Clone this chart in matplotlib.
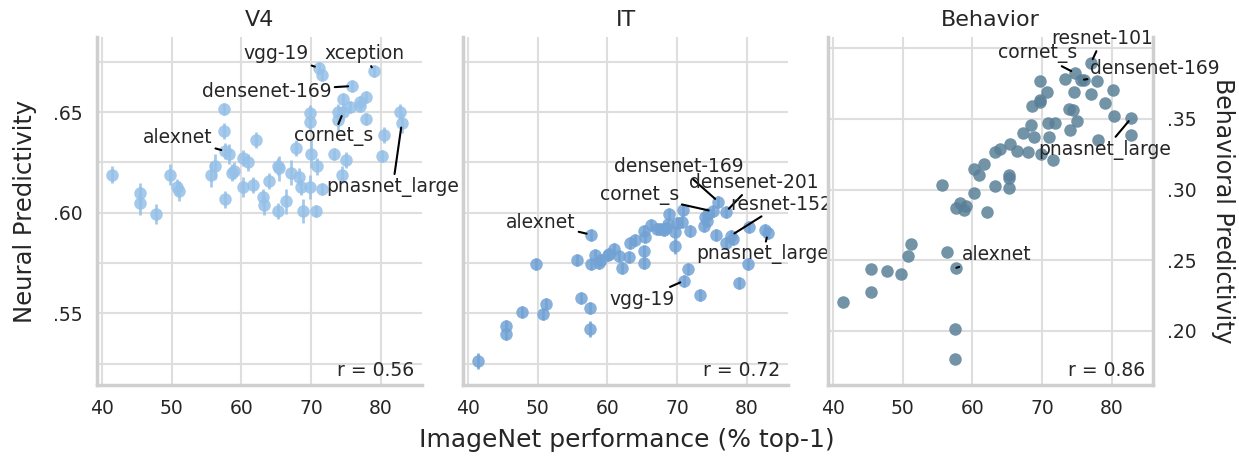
import matplotlib
matplotlib.use("Agg")
import matplotlib.pyplot as plt
from matplotlib.ticker import FixedLocator, FuncFormatter


# ImageNet top-1 and predictivity per model
v4_x = [41.4, 45.4, 45.4, 47.7, 49.7, 50.7, 51.1, 55.6, 56.2, 57.5,
        57.5, 57.7, 57.7, 58.2, 58.7, 59.0, 60.2, 60.2, 61.0, 61.7,
        62.1, 63.1, 63.2, 63.9, 65.2, 65.4, 65.3, 66.4, 67.1, 67.9,
        68.3, 68.6, 68.8, 69.8, 69.8, 70.0, 69.8, 70.9, 70.7, 71.1,
        71.5, 71.6, 73.3, 73.9, 73.9, 74.5, 74.6, 75.0, 74.6, 75.6,
        75.9, 77.0, 77.0, 77.8, 77.9, 79.0, 80.4, 80.2, 82.8, 83.0]
v4_y = [.619, .610, .605, .5995, .619, .613, .611, .619, .623, .6515,
        .6406, .6066, .6306, .629, .620, .621, .627, .613, .625, .614,
        .636, .608, .604, .616, .623, .622, .601, .6056, .620, .632,
        .618, .613, .601, .6495, .645, .629, .613, .623, .6008, .672,
        .6687, .612, .629, .650, .646, .619, .6566, .626, .650, .6525,
        .663, .655, .653, .6576, .6467, .6705, .6387, .628, .650, .6444]
v4_err = [.004, .005, .006, .005, .005, .004, .005, .006, .006, .003,
          .004, .004, .004, .005, .004, .004, .004, .005, .004, .004,
          .004, .004, .005, .004, .004, .006, .004, .006, .006, .004,
          .004, .004, .006, .004, .004, .007, .006, .004, .003, .003,
          .003, .003, .003, .004, .005, .004, .003, .004, .004, .003,
          .003, .003, .003, .003, .003, .003, .004, .003, .004, .005]

it_x = [41.5, 45.5, 45.5, 47.7, 49.7, 50.7, 51.2, 55.7, 56.2, 57.5,
        57.5, 57.6, 57.6, 58.2, 58.8, 59.1, 60.1, 60.3, 61.0, 61.7,
        62.1, 63.1, 63.2, 63.9, 65.2, 65.2, 65.3, 65.4, 66.3, 67.1,
        67.6, 68.1, 68.4, 68.7, 68.8, 69.7, 69.7, 70.0, 70.7, 70.9,
        71.0, 71.5, 71.8, 73.3, 73.8, 74.0, 74.3, 74.4, 75.1, 75.6,
        75.9, 77.0, 77.0, 77.7, 78.0, 78.9, 80.3, 80.1, 82.6, 83.0]
it_y = [.5263, .5437, .5396, .5508, .5743, .5495, .5548, .5767, .5576, .5525,
        .5422, .5891, .5743, .579, .575, .5763, .579, .5796, .5818, .5783,
        .5727, .578, .5848, .5863, .5808, .5748, .5909, .5879, .5937, .5917,
        .592, .5915, .5925, .5942, .5993, .5904, .5833, .5947, .5952, .6012,
        .5662, .5719, .591, .5591, .5932, .598, .596, .5992, .6007, .5889,
        .6055, .6005, .5848, .5886, .5868, .5652, .5929, .5743, .5916, .5897]
it_err = [.004, .003, .003, .003, .003, .003, .003, .003, .003, .003,
          .004, .003, .003, .003, .003, .003, .003, .003, .003, .003,
          .003, .003, .003, .003, .003, .003, .003, .003, .003, .003,
          .003, .003, .003, .003, .003, .003, .004, .003, .003, .003,
          .003, .003, .003, .003, .003, .003, .003, .003, .003, .003,
          .003, .003, .003, .003, .003, .003, .003, .003, .003, .003]

beh_x = [41.5, 45.5, 45.5, 47.7, 49.8, 50.8, 51.2, 55.7, 56.3, 57.5,
         57.5, 57.7, 57.6, 58.2, 58.8, 59.1, 60.3, 60.3, 61.0, 61.7,
         62.1, 63.2, 63.3, 63.9, 65.3, 65.3, 65.3, 65.4, 66.4, 67.2,
         68.0, 68.4, 68.8, 68.6, 69.7, 69.7, 69.7, 69.9, 70.7, 70.8,
         71.0, 71.5, 71.8, 73.3, 73.8, 74.4, 74.0, 74.5, 74.7, 75.0,
         75.6, 76.0, 77.0, 77.0, 77.8, 78.0, 79.0, 80.1, 80.3, 82.8, 82.7]
beh_y = [.2205, .2441, .2276, .2420, .2403, .2531, .2618, .3033, .2559, .2014,
         .1800, .2446, .287, .2903, .2854, .2887, .2972, .3144, .3101, .3184,
         .2844, .3024, .3264, .3288, .3104, .308, .3009, .3325, .3276, .3401,
         .3267, .346, .337, .3594, .3767, .3634, .3618, .325, .3693, .3474,
         .3375, .321, .3474, .378, .357, .3561, .342, .3693, .3825, .3483,
         .3778, .3778, .3896, .3677, .3767, .3349, .3613, .3708, .3524, .3507, .3387]

# labelled models: (name, point x, point y, text x, text y)
v4_labels = [("vgg-19", 71.1, .672, 65.0, .679),
             ("xception", 79.0, .6705, 77.6, .679),
             ("densenet-169", 75.9, .663, 63.7, .6604),
             ("alexnet", 57.7, .6306, 50.9, .6372),
             ("cornet_s", 74.6, .650, 73.2, .638),
             ("pnasnet_large", 83.0, .6444, 81.7, .6129)]
it_labels = [("densenet-169", 75.9, .6055, 70.3, .6228),
             ("densenet-201", 77.0, .6005, 81.0, .6149),
             ("cornet_s", 75.1, .6007, 64.6, .6088),
             ("resnet-152", 77.7, .5886, 84.9, .6043),
             ("alexnet", 57.6, .5891, 50.5, .595),
             ("pnasnet_large", 83.0, .5897, 82.3, .5793),
             ("vgg-19", 71.0, .5662, 65.0, .557)]
beh_labels = [("resnet-101", 77.0, .3896, 78.6, .4066),
              ("cornet_s", 74.7, .3825, 69.4, .396),
              ("densenet-169", 76.0, .3778, 86.2, .3854),
              ("pnasnet_large", 82.8, .3507, 79.0, .3283),
              ("alexnet", 57.7, .2446, 63.5, .2538)]

correlations = [0.56, 0.72, 0.86]

GRID = "#dedede"
SPINE = "#cfcfcf"
TEXT = "#262626"


def dot_fmt(v, pos):
    s = "%.2f" % v
    return s[1:] if s.startswith("0") else s


def style_axis(ax, yticks, ylabels_on=True, right=False):
    ax.set_xlim(39.3, 85.9)
    ax.set_xticks([40, 50, 60, 70, 80])
    ax.yaxis.set_major_locator(FixedLocator(yticks))
    ax.yaxis.set_major_formatter(FuncFormatter(dot_fmt))
    ax.grid(True, which="both", color=GRID, lw=1.5)
    ax.set_axisbelow(True)
    for side in ["top", "right", "left", "bottom"]:
        ax.spines[side].set_visible(False)
    ax.spines["bottom"].set_visible(True)
    ax.spines["left"].set_visible(True)
    if right:
        ax.spines["right"].set_visible(True)
        ax.yaxis.tick_right()
    for side in ["left", "right", "bottom"]:
        ax.spines[side].set_color(SPINE)
        ax.spines[side].set_linewidth(2.5)
    ax.tick_params(axis="both", length=0, pad=10, labelsize=13.5, colors=TEXT)
    if not ylabels_on:
        ax.tick_params(axis="y", labelleft=False)


def add_labels(ax, labels):
    for name, px, py, tx, ty in labels:
        ax.annotate(name, xy=(px, py), xytext=(tx, ty), ha="center", va="center",
                    fontsize=13.5, color=TEXT, zorder=5,
                    arrowprops=dict(arrowstyle="-", color="black", lw=1.5,
                                    shrinkA=0, shrinkB=3))


def main():
    fig = plt.figure(figsize=(12.39, 4.57), dpi=100)
    bottom, height = 0.1565, 0.7626
    ax_v4 = fig.add_axes([0.0783, bottom, 0.2623, height])
    ax_it = fig.add_axes([0.3737, bottom, 0.2623, height], sharey=ax_v4)
    ax_beh = fig.add_axes([0.6683, bottom, 0.2623, height])

    ax_v4.errorbar(v4_x, v4_y, yerr=v4_err, fmt="o", ms=9, color="#96c0e8",
                   alpha=0.85, elinewidth=2, capsize=0, mec="none", zorder=3)
    ax_it.errorbar(it_x, it_y, yerr=it_err, fmt="o", ms=9, color="#72a2d4",
                   alpha=0.85, elinewidth=2, capsize=0, mec="none", zorder=3)
    ax_beh.plot(beh_x, beh_y, "o", ms=9, color="#5a8098", alpha=0.85,
                mec="none", zorder=3)

    style_axis(ax_v4, [.55, .60, .65])
    style_axis(ax_it, [.55, .60, .65], ylabels_on=False)
    for ax in (ax_v4, ax_it):
        ax.yaxis.set_minor_locator(FixedLocator([.525, .575, .625, .675]))
        ax.tick_params(axis="y", which="minor", length=0)
    ax_v4.set_ylim(.5141, .6874)

    style_axis(ax_beh, [.20, .25, .30, .35, .40], right=True)
    ax_beh.set_yticklabels([".20", ".25", ".30", ".35", ""])
    ax_beh.set_ylim(.1613, .408)

    for ax, title, r in zip((ax_v4, ax_it, ax_beh), ("V4", "IT", "Behavior"), correlations):
        ax.set_title(title, fontsize=16, color=TEXT, pad=8)
        ax.text(0.975, 0.015, "r = %.2f" % r, transform=ax.transAxes,
                ha="right", va="bottom", fontsize=13.5, color=TEXT)

    add_labels(ax_v4, v4_labels)
    add_labels(ax_it, it_labels)
    add_labels(ax_beh, beh_labels)

    ax_v4.set_ylabel("Neural Predictivity", fontsize=17.5, color=TEXT, labelpad=12)
    ax_beh.yaxis.set_label_position("right")
    ax_beh.set_ylabel("Behavioral Predictivity", fontsize=17, color=TEXT,
                      rotation=270, labelpad=28)
    fig.text(0.506, 0.037, "ImageNet performance (% top-1)", ha="center",
             va="center", fontsize=18, color=TEXT)

    fig.savefig("out.png", dpi=100)


if __name__ == "__main__":
    main()
